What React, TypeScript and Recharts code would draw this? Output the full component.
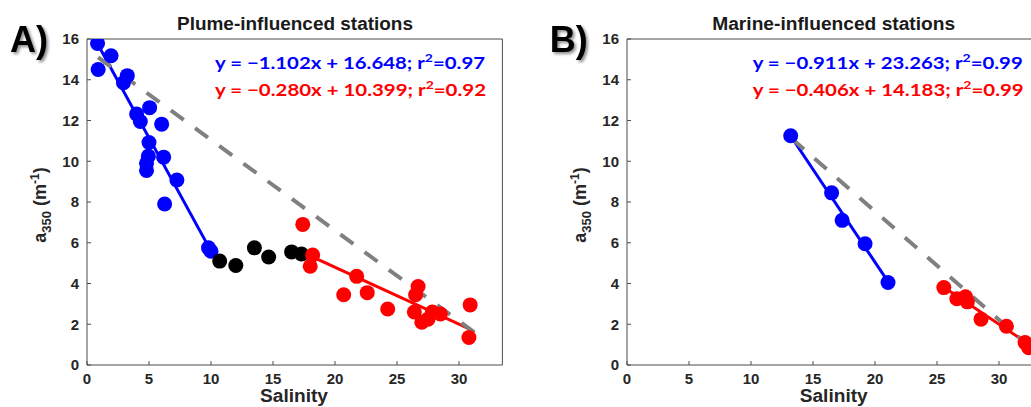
import React from 'react';
import { ComposedChart, Scatter, Line, XAxis, YAxis } from 'recharts';

// ---------- data ----------
const xTicks = [0, 5, 10, 15, 20, 25, 30];
const yTicks = [0, 2, 4, 6, 8, 10, 12, 14, 16];
const xDomain: [number, number] = [0, 33.5];
const yDomain: [number, number] = [0, 16];

// Panel A: plume-influenced stations
const plumeBlue = [
  { x: 0.85, y: 15.78 }, { x: 1.94, y: 15.18 }, { x: 0.9, y: 14.5 }, { x: 3.25, y: 14.2 },
  { x: 2.94, y: 13.85 }, { x: 5.05, y: 12.63 }, { x: 4.0, y: 12.32 }, { x: 4.3, y: 11.95 },
  { x: 6.02, y: 11.82 }, { x: 5.0, y: 10.92 }, { x: 4.95, y: 10.25 }, { x: 4.8, y: 9.9 },
  { x: 4.8, y: 9.55 }, { x: 6.18, y: 10.2 }, { x: 7.25, y: 9.08 }, { x: 6.26, y: 7.9 },
  { x: 9.8, y: 5.75 }, { x: 10.0, y: 5.58 },
];
const plumeBlack = [
  { x: 10.7, y: 5.1 }, { x: 12.0, y: 4.88 }, { x: 13.5, y: 5.75 },
  { x: 14.65, y: 5.3 }, { x: 16.5, y: 5.55 }, { x: 17.3, y: 5.45 },
];
const plumeRed = [
  { x: 17.4, y: 6.9 }, { x: 18.2, y: 5.4 }, { x: 18.0, y: 4.85 }, { x: 21.75, y: 4.35 },
  { x: 20.7, y: 3.45 }, { x: 22.6, y: 3.55 }, { x: 24.25, y: 2.75 }, { x: 26.7, y: 3.85 },
  { x: 26.5, y: 3.45 }, { x: 26.4, y: 2.6 }, { x: 27.0, y: 2.1 }, { x: 27.5, y: 2.25 },
  { x: 27.85, y: 2.6 }, { x: 28.5, y: 2.5 }, { x: 30.9, y: 2.95 }, { x: 30.8, y: 1.35 },
];
const plumeBlueFit = [{ x: 0.85, y: 15.77 }, { x: 9.9, y: 5.7 }];
const plumeRedFit = [{ x: 18.0, y: 5.36 }, { x: 31.0, y: 1.72 }];
const plumeMixing = [{ x: 0.9, y: 15.1 }, { x: 31.7, y: 1.4 }];

// Panel B: marine-influenced stations
const marineBlue = [
  { x: 13.2, y: 11.25 }, { x: 16.5, y: 8.45 }, { x: 17.35, y: 7.1 },
  { x: 19.2, y: 5.95 }, { x: 21.05, y: 4.05 },
];
const marineBlack: { x: number; y: number }[] = [];
const marineRed = [
  { x: 25.55, y: 3.8 }, { x: 26.6, y: 3.25 }, { x: 27.3, y: 3.35 }, { x: 27.45, y: 3.1 },
  { x: 28.55, y: 2.25 }, { x: 30.6, y: 1.9 }, { x: 32.1, y: 1.1 }, { x: 32.4, y: 0.85 },
];
const marineBlueFit = [{ x: 13.2, y: 11.24 }, { x: 21.05, y: 4.09 }];
const marineRedFit = [{ x: 25.55, y: 3.81 }, { x: 33.0, y: 0.78 }];
const marineMixing = [{ x: 13.3, y: 11.1 }, { x: 33.4, y: 0.41 }];

const titles = ['Plume-influenced stations', 'Marine-influenced stations'];
const letters = ['A)', 'B)'];
const blueEq = ['y = \u22121.102x + 16.648; r', 'y = \u22120.911x + 23.263; r'];
const blueR2 = ['=0.97', '=0.99'];
const redEq = ['y = \u22120.280x + 10.399; r', 'y = \u22120.406x + 14.183; r'];
const redR2 = ['=0.92', '=0.99'];

// ---------- styles ----------
const BLUE = '#0000ff';
const RED = '#ff0000';
const BLACK = '#000000';
const GRAY = '#808080';
const AXIS = '#4d4d4d';
const TXT = '#262626';
const SANS = '"Liberation Sans", Arial, Helvetica, sans-serif';

const tickStyle = { fontSize: 15, fontWeight: 'bold', fill: TXT, fontFamily: SANS };

const dot = (color: string) => (p: any) =>
  <circle cx={p.cx} cy={p.cy} r={7.5} fill={color} stroke="none" />;

type Pt = { x: number; y: number };

function Panel(props: {
  blue: Pt[]; black: Pt[]; red: Pt[]; blueFit: Pt[]; redFit: Pt[]; mixing: Pt[];
}) {
  const { blue, black, red, blueFit, redFit, mixing } = props;
  return (
    <ComposedChart width={520} height={407} margin={{ top: 38, right: 16.6, bottom: 0, left: 0 }}>
      <XAxis xAxisId={0} type="number" dataKey="x" domain={xDomain} ticks={xTicks} interval={0}
        allowDataOverflow height={42} tickSize={-4} tickMargin={12}
        axisLine={{ stroke: AXIS, strokeWidth: 1 }} tickLine={{ stroke: AXIS, strokeWidth: 1 }} tick={tickStyle} />
      <XAxis xAxisId="top" orientation="top" type="number" dataKey="x" domain={xDomain} ticks={xTicks} interval={0}
        allowDataOverflow height={1} tickSize={-4} tick={false}
        axisLine={{ stroke: AXIS, strokeWidth: 1 }} tickLine={{ stroke: AXIS, strokeWidth: 1 }} />
      <YAxis yAxisId={0} type="number" dataKey="y" domain={yDomain} ticks={yTicks} interval={0}
        allowDataOverflow width={87} tickSize={-4} tickMargin={12}
        axisLine={{ stroke: AXIS, strokeWidth: 1 }} tickLine={{ stroke: AXIS, strokeWidth: 1 }} tick={tickStyle} />
      <YAxis yAxisId="right" orientation="right" type="number" dataKey="y" domain={yDomain} ticks={yTicks} interval={0}
        allowDataOverflow width={1} tickSize={-4} tick={false}
        axisLine={{ stroke: AXIS, strokeWidth: 1 }} tickLine={{ stroke: AXIS, strokeWidth: 1 }} />
      <Scatter data={blue} fill={BLUE} shape={dot(BLUE)} isAnimationActive={false} />
      <Scatter data={black} fill={BLACK} shape={dot(BLACK)} isAnimationActive={false} />
      <Scatter data={red} fill={RED} shape={dot(RED)} isAnimationActive={false} />
      <Line data={blueFit} dataKey="y" type="linear" stroke={BLUE} strokeWidth={3} dot={false}
        activeDot={false} isAnimationActive={false} />
      <Line data={redFit} dataKey="y" type="linear" stroke={RED} strokeWidth={3} dot={false}
        activeDot={false} isAnimationActive={false} />
      <Line data={mixing} dataKey="y" type="linear" stroke={GRAY} strokeWidth={4} strokeDasharray="16 14"
        dot={false} activeDot={false} isAnimationActive={false} />
    </ComposedChart>
  );
}

function Overlay({ dx, i }: { dx: number; i: number }) {
  const eqFont = 'Lato, "Open Sans", sans-serif';
  const titleCx = i === 0 ? 295 : 294;
  const eqX = i === 0 ? 215 : 213;
  return (
    <g transform={`translate(${dx},0)`}>
      <text x={10} y={52} fontSize={36} fontWeight="bold" fontFamily={SANS} fill="#000" filter="url(#shadow)">
        {letters[i]}
      </text>
      <text x={titleCx} y={29.5} textAnchor="middle" fontSize={18} fontWeight="bold" fontFamily={SANS}
        fill="#1a1a1a" textLength={i === 0 ? 236 : 243} lengthAdjust="spacingAndGlyphs">
        {titles[i]}
      </text>
      <text x={eqX} y={69} fontSize={17.5} fontWeight="bold" fontFamily={eqFont} fill={BLUE}
        textLength={270} lengthAdjust="spacingAndGlyphs">
        {blueEq[i]}<tspan dy={-7} fontSize={12}>2</tspan><tspan dy={7}>{blueR2[i]}</tspan>
      </text>
      <text x={eqX} y={95.5} fontSize={17.5} fontWeight="bold" fontFamily={eqFont} fill={RED}
        textLength={271} lengthAdjust="spacingAndGlyphs">
        {redEq[i]}<tspan dy={-7} fontSize={12}>2</tspan><tspan dy={7}>{redR2[i]}</tspan>
      </text>
      <text x={294} y={402} textAnchor="middle" fontSize={18} fontWeight="bold" fontFamily={SANS} fill={TXT}
        textLength={68} lengthAdjust="spacingAndGlyphs">
        Salinity
      </text>
      <text x={46} y={205} transform="rotate(-90 46 205)" textAnchor="middle" fontSize={18} fontWeight="bold"
        fontFamily={SANS} fill={TXT}>
        a<tspan dy={5} fontSize={13}>350</tspan><tspan dy={-5}> (m</tspan>
        <tspan dy={-7} fontSize={12}>-1</tspan><tspan dy={7}>)</tspan>
      </text>
    </g>
  );
}

export default function App() {
  return (
    <div style={{ position: 'fixed', left: 0, top: 0, width: 1031, height: 407, overflow: 'hidden', background: '#fff' }}>
      <div style={{ position: 'absolute', left: 0, top: 0 }}>
        <Panel blue={plumeBlue} black={plumeBlack} red={plumeRed}
          blueFit={plumeBlueFit} redFit={plumeRedFit} mixing={plumeMixing} />
      </div>
      <div style={{ position: 'absolute', left: 539.7, top: 0 }}>
        <Panel blue={marineBlue} black={marineBlack} red={marineRed}
          blueFit={marineBlueFit} redFit={marineRedFit} mixing={marineMixing} />
      </div>
      <svg width={1031} height={407} style={{ position: 'absolute', left: 0, top: 0, pointerEvents: 'none' }}>
        <defs>
          <filter id="shadow" x="-20%" y="-20%" width="160%" height="160%">
            <feDropShadow dx={2} dy={2} stdDeviation={1.5} floodColor="#000" floodOpacity={0.45} />
          </filter>
        </defs>
        <Overlay dx={0} i={0} />
        <Overlay dx={539.7} i={1} />
      </svg>
    </div>
  );
}
